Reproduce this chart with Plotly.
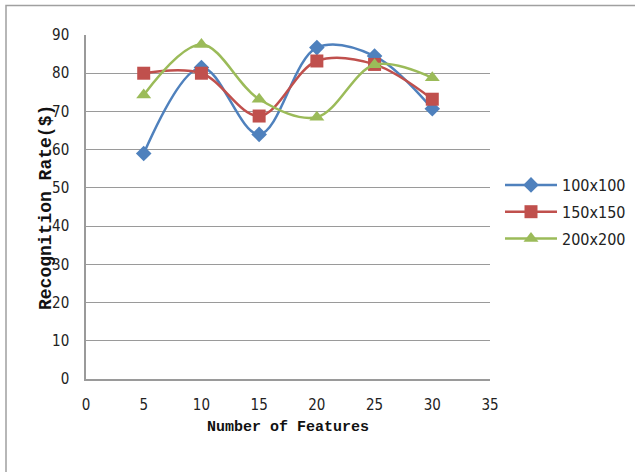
import plotly.graph_objects as go

# Recognition rate (%) versus number of features for three image sizes
features = [5, 10, 15, 20, 25, 30]
rate_100 = [59, 81.5, 64, 86.7, 84.5, 70.7]
rate_150 = [80, 80, 68.8, 83.2, 82.3, 73.2]
rate_200 = [74.3, 87.5, 73.2, 68.5, 82.2, 78.8]
series_names = ["100x100", "150x150", "200x200"]

colors = ["#4F81BD", "#C0504D", "#9BBB59"]
symbols = ["diamond", "square", "triangle-up"]
sizes = [12, 13, 13]

W, H = 635, 472
L, R, T, B = 86, 145, 35, 93
pw, ph = W - L - R, H - T - B


def px_x(px):
    return (px - L) / pw


def px_y(py):
    return (H - B - py) / ph


tick_font = dict(family="Liberation Sans Narrow, DejaVu Sans Condensed, sans-serif",
                 size=15, color="#222222")
legend_font = dict(family="Liberation Sans Narrow, DejaVu Sans Condensed, sans-serif",
                   size=16, color="#222222")
title_font = dict(family="Liberation Mono, DejaVu Sans Mono, monospace",
                  size=15, color="#111111")
ytitle_font = dict(family="Liberation Mono, DejaVu Sans Mono, monospace",
                   size=18, color="#111111")

fig = go.Figure()
for name, ys, c, s, sz in zip(series_names, [rate_100, rate_150, rate_200],
                              colors, symbols, sizes):
    fig.add_trace(go.Scatter(
        x=features, y=ys, name=name, mode="lines+markers", legendgroup=name,
        line=dict(color=c, width=2.5, shape="spline", smoothing=1.0),
        marker=dict(symbol=s, size=sz, color=c),
    ))

fig.update_layout(
    width=W, height=H,
    margin=dict(l=L, r=R, t=T, b=B, autoexpand=False),
    paper_bgcolor="white", plot_bgcolor="white",
    showlegend=True,
    legend=dict(x=px_x(500), y=px_y(168), xanchor="left", yanchor="top",
                font=legend_font, itemwidth=52, traceorder="grouped",
                tracegroupgap=3, bgcolor="rgba(0,0,0,0)"),
    xaxis=dict(range=[0, 35], dtick=5, tick0=0, showgrid=False,
               showline=True, linecolor="#9a9a9a", linewidth=1.5,
               zeroline=False, ticks="", tickfont=tick_font,
               ticklabelstandoff=11, fixedrange=True),
    yaxis=dict(range=[0, 90], dtick=10, tick0=0, showgrid=True,
               gridcolor="#9a9a9a", gridwidth=1.3,
               showline=True, linecolor="#9a9a9a", linewidth=1.5,
               zeroline=False, ticks="", tickfont=tick_font,
               ticklabelstandoff=12, fixedrange=True),
    annotations=[
        dict(text="<b>Number of Features</b>", x=px_x(288), y=px_y(427),
             xref="paper", yref="paper", showarrow=False, font=title_font,
             xanchor="center", yanchor="middle"),
        dict(text="<b>Recognition Rate($)</b>", x=px_x(46), y=px_y(208),
             xref="paper", yref="paper", showarrow=False, font=ytitle_font,
             textangle=-90, xanchor="center", yanchor="middle"),
    ],
    shapes=[
        dict(type="rect", xref="paper", yref="paper",
             x0=px_x(6), x1=px_x(645), y0=px_y(485), y1=px_y(5.5),
             line=dict(color="#a0a0a0", width=1.5), fillcolor="rgba(0,0,0,0)",
             layer="below"),
    ],
)

fig.write_html("out.html")
